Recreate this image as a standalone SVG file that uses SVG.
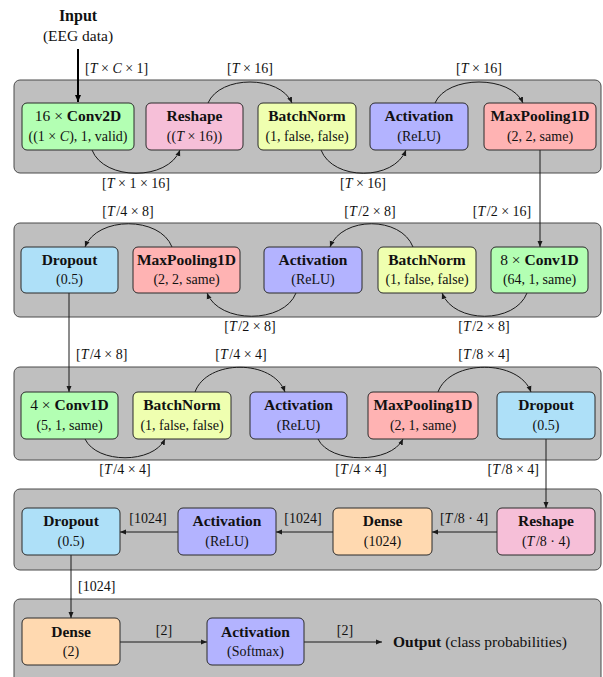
<svg xmlns="http://www.w3.org/2000/svg" width="603" height="677" viewBox="0 0 603 677">
<defs>
<style>
text{font-family:"Liberation Serif","Times New Roman",serif;fill:#111}
.panel{fill:#bfbfbf;stroke:#4a4a4a;stroke-width:1}
.node{stroke:#2a2a2a;stroke-width:1}
.t{font-size:15.5px;font-weight:bold;text-anchor:middle}
.s{font-size:14px;text-anchor:middle}
.l{font-size:14px;text-anchor:middle}
.ls{font-size:14px;text-anchor:start}
.le{font-size:14px;text-anchor:end}
.i{font-style:italic}
.n{font-weight:normal}
.c{fill:none;stroke:#1a1a1a;stroke-width:1;marker-end:url(#ah)}
.green{fill:#b3ffb3}.pink{fill:#f6bfd8}.yellow{fill:#efffb0}.blue{fill:#b3b3ff}.red{fill:#ffb3b3}.cyan{fill:#aee0f8}.orange{fill:#ffd9b0}
</style>
<marker id="ah" markerWidth="7" markerHeight="6" refX="6" refY="3" orient="auto" markerUnits="userSpaceOnUse">
<path d="M0,0.5 L6,3 L0,5.5 Z" fill="#1a1a1a"/>
</marker>
<marker id="ahb" markerWidth="8" markerHeight="8" refX="7" refY="4" orient="auto" markerUnits="userSpaceOnUse">
<path d="M0,1 L7,4 L0,7 Z" fill="#000"/>
</marker>
</defs>

<g id="panels">
<rect class="panel" x="14" y="80" width="587" height="93" rx="6"/>
<rect class="panel" x="14" y="223" width="587" height="94" rx="6"/>
<rect class="panel" x="14" y="367" width="587" height="93" rx="6"/>
<rect class="panel" x="14" y="489" width="587" height="81" rx="6"/>
<rect class="panel" x="14" y="599" width="587" height="100" rx="6"/>
</g>

<g id="input">
<text x="78" y="21" style="font-size:16px;font-weight:bold;text-anchor:middle">Input</text>
<text x="78" y="41" style="font-size:15.5px;text-anchor:middle">(EEG data)</text>
</g>

<g id="connectors">
<line x1="78" y1="49" x2="78" y2="102" style="stroke:#000;stroke-width:2;marker-end:url(#ahb)"/>
<!-- row 1 -->
<path class="c" d="M92,150 C104,181 168,181 180,150"/>
<path class="c" d="M208,103 C220,75 280,75 292,103"/>
<path class="c" d="M321,150 C333,181 394,181 406,150"/>
<path class="c" d="M435,103 C447,75 511,75 523,103"/>
<path class="c" d="M540,150 L540,247"/>
<!-- row 2 -->
<path class="c" d="M527,293 C515,324 454,324 442,293"/>
<path class="c" d="M413,247 C401,216 342,216 330,247"/>
<path class="c" d="M296,293 C284,324 219,324 207,293"/>
<path class="c" d="M172,247 C160,216 97,216 85,247"/>
<path class="c" d="M69,293 L69,392"/>
<!-- row 3 -->
<path class="c" d="M85,439 C97,464 153,464 165,439"/>
<path class="c" d="M195,392 C207,359 273,359 285,392"/>
<path class="c" d="M318,439 C330,464 391,464 403,439"/>
<path class="c" d="M438,392 C450,359 519,359 531,392"/>
<path class="c" d="M546,439 L546,508"/>
<!-- row 4 -->
<path class="c" d="M497,532 L432,532"/>
<path class="c" d="M333,532 L276,532"/>
<path class="c" d="M178,532 L120,532"/>
<path class="c" d="M71,555 L71,618"/>
<!-- row 5 -->
<path class="c" d="M120,642 L207,642"/>
<path class="c" d="M304,642 L382,642"/>
</g>

<g id="labels">
<text class="ls" x="85" y="72.5">[<tspan class="i">T</tspan> × <tspan class="i">C</tspan> × 1]</text>
<text class="l" x="250" y="72.5">[<tspan class="i">T</tspan> × 16]</text>
<text class="l" x="479" y="72.5">[<tspan class="i">T</tspan> × 16]</text>
<text class="l" x="136" y="187.5">[<tspan class="i">T</tspan> × 1 × 16]</text>
<text class="l" x="363" y="187.5">[<tspan class="i">T</tspan> × 16]</text>

<text class="l" x="128" y="215.5">[<tspan class="i">T</tspan><tspan dx="1.5">/4 × 8]</tspan></text>
<text class="l" x="370" y="215.5">[<tspan class="i">T</tspan><tspan dx="1.5">/2 × 8]</tspan></text>
<text class="l" x="502" y="215.5">[<tspan class="i">T</tspan><tspan dx="1.5">/2 × 16]</tspan></text>
<text class="l" x="250" y="331">[<tspan class="i">T</tspan><tspan dx="1.5">/2 × 8]</tspan></text>
<text class="l" x="484" y="331">[<tspan class="i">T</tspan><tspan dx="1.5">/2 × 8]</tspan></text>

<text class="ls" x="76" y="359">[<tspan class="i">T</tspan><tspan dx="1.5">/4 × 8]</tspan></text>
<text class="l" x="241" y="359">[<tspan class="i">T</tspan><tspan dx="1.5">/4 × 4]</tspan></text>
<text class="l" x="484" y="359">[<tspan class="i">T</tspan><tspan dx="1.5">/8 × 4]</tspan></text>
<text class="l" x="125" y="474">[<tspan class="i">T</tspan><tspan dx="1.5">/4 × 4]</tspan></text>
<text class="l" x="361" y="474">[<tspan class="i">T</tspan><tspan dx="1.5">/4 × 4]</tspan></text>
<text class="le" x="539" y="474">[<tspan class="i">T</tspan><tspan dx="1.5">/8 × 4]</tspan></text>

<text class="l" x="464" y="522.5">[<tspan class="i">T</tspan><tspan dx="1.5">/8 · 4]</tspan></text>
<text class="l" x="303" y="522.5">[1024]</text>
<text class="l" x="148" y="522.5">[1024]</text>
<text class="ls" x="78" y="590.5">[1024]</text>

<text class="l" x="164" y="634.5">[2]</text>
<text class="l" x="345" y="634.5">[2]</text>
</g>

<g id="output">
<text x="393" y="647" style="font-size:15.5px"><tspan font-weight="bold">Output</tspan> (class probabilities)</text>
</g>

<!-- Row 1 -->
<g id="r1-conv2d">
<rect class="node green" x="22" y="103" width="112" height="47" rx="5"/>
<text class="t" x="78" y="121"><tspan class="n">16 × </tspan>Conv2D</text>
<text class="s" x="78" y="141">((1 × <tspan class="i">C</tspan>), 1, valid)</text>
</g>
<g id="r1-reshape">
<rect class="node pink" x="146" y="103" width="97" height="47" rx="5"/>
<text class="t" x="194.5" y="121">Reshape</text>
<text class="s" x="194.5" y="141">((<tspan class="i">T</tspan> × 16))</text>
</g>
<g id="r1-batchnorm">
<rect class="node yellow" x="258" y="103" width="98" height="47" rx="5"/>
<text class="t" x="307" y="121">BatchNorm</text>
<text class="s" x="307" y="141">(1, false, false)</text>
</g>
<g id="r1-activation">
<rect class="node blue" x="370" y="103" width="98" height="47" rx="5"/>
<text class="t" x="419" y="121">Activation</text>
<text class="s" x="419" y="141">(ReLU)</text>
</g>
<g id="r1-maxpool">
<rect class="node red" x="484" y="103" width="112" height="47" rx="5"/>
<text class="t" x="540" y="121">MaxPooling1D</text>
<text class="s" x="540" y="141">(2, 2, same)</text>
</g>

<!-- Row 2 -->
<g id="r2-dropout">
<rect class="node cyan" x="21" y="247" width="97" height="46" rx="5"/>
<text class="t" x="69.5" y="265">Dropout</text>
<text class="s" x="69.5" y="284">(0.5)</text>
</g>
<g id="r2-maxpool">
<rect class="node red" x="133" y="247" width="107" height="46" rx="5"/>
<text class="t" x="186.5" y="265">MaxPooling1D</text>
<text class="s" x="186.5" y="284">(2, 2, same)</text>
</g>
<g id="r2-activation">
<rect class="node blue" x="264" y="247" width="98" height="46" rx="5"/>
<text class="t" x="313" y="265">Activation</text>
<text class="s" x="313" y="284">(ReLU)</text>
</g>
<g id="r2-batchnorm">
<rect class="node yellow" x="378" y="247" width="98" height="46" rx="5"/>
<text class="t" x="427" y="265">BatchNorm</text>
<text class="s" x="427" y="284">(1, false, false)</text>
</g>
<g id="r2-conv1d">
<rect class="node green" x="491" y="247" width="97" height="46" rx="5"/>
<text class="t" x="539.5" y="265"><tspan class="n">8 × </tspan>Conv1D</text>
<text class="s" x="539.5" y="284">(64, 1, same)</text>
</g>

<!-- Row 3 -->
<g id="r3-conv1d">
<rect class="node green" x="21" y="392" width="97" height="47" rx="5"/>
<text class="t" x="69.5" y="410"><tspan class="n">4 × </tspan>Conv1D</text>
<text class="s" x="69.5" y="429.5">(5, 1, same)</text>
</g>
<g id="r3-batchnorm">
<rect class="node yellow" x="133" y="392" width="98" height="47" rx="5"/>
<text class="t" x="182" y="410">BatchNorm</text>
<text class="s" x="182" y="429.5">(1, false, false)</text>
</g>
<g id="r3-activation">
<rect class="node blue" x="250" y="392" width="97" height="47" rx="5"/>
<text class="t" x="298.5" y="410">Activation</text>
<text class="s" x="298.5" y="429.5">(ReLU)</text>
</g>
<g id="r3-maxpool">
<rect class="node red" x="368" y="392" width="110" height="47" rx="5"/>
<text class="t" x="423" y="410">MaxPooling1D</text>
<text class="s" x="423" y="429.5">(2, 1, same)</text>
</g>
<g id="r3-dropout">
<rect class="node cyan" x="497" y="392" width="98" height="47" rx="5"/>
<text class="t" x="546" y="410">Dropout</text>
<text class="s" x="546" y="429.5">(0.5)</text>
</g>

<!-- Row 4 -->
<g id="r4-dropout">
<rect class="node cyan" x="22" y="508" width="98" height="47" rx="5"/>
<text class="t" x="71" y="526">Dropout</text>
<text class="s" x="71" y="545.5">(0.5)</text>
</g>
<g id="r4-activation">
<rect class="node blue" x="178" y="508" width="98" height="47" rx="5"/>
<text class="t" x="227" y="526">Activation</text>
<text class="s" x="227" y="545.5">(ReLU)</text>
</g>
<g id="r4-dense">
<rect class="node orange" x="333" y="508" width="99" height="47" rx="5"/>
<text class="t" x="382.5" y="526">Dense</text>
<text class="s" x="382.5" y="545.5">(1024)</text>
</g>
<g id="r4-reshape">
<rect class="node pink" x="497" y="508" width="98" height="47" rx="5"/>
<text class="t" x="546" y="526">Reshape</text>
<text class="s" x="546" y="545.5">(<tspan class="i">T</tspan><tspan dx="1.5">/8 · 4)</tspan></text>
</g>

<!-- Row 5 -->
<g id="r5-dense">
<rect class="node orange" x="22" y="618" width="98" height="47" rx="5"/>
<text class="t" x="71" y="636.5">Dense</text>
<text class="s" x="71" y="655.5">(2)</text>
</g>
<g id="r5-activation">
<rect class="node blue" x="207" y="618" width="97" height="47" rx="5"/>
<text class="t" x="255.5" y="636.5">Activation</text>
<text class="s" x="255.5" y="655.5">(Softmax)</text>
</g>
</svg>
